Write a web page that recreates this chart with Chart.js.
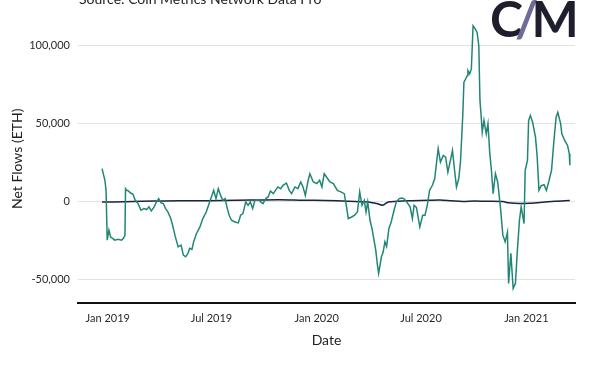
<!DOCTYPE html>
<html>
<head>
<meta charset="utf-8">
<script src="https://cdn.jsdelivr.net/npm/chart.js@4"></script>
<style>
  body { margin: 0; background: #fff; }
  canvas { display: block; }
</style>
</head>
<body>
<canvas id="flowChart" width="600" height="368"></canvas>
<script>
// --- Data (days since 2019-01-01, net flows in ETH) ---
const greenDays = [-10, -5, -3, -1, 2, 5, 9, 12, 18, 24, 27, 30, 31, 33, 35, 40, 44, 48, 53, 58, 63, 68, 72, 76, 81, 85, 89, 93, 97, 101, 105, 110, 114, 118, 123, 128, 132, 136, 140, 143, 147, 150, 155, 161, 166, 172, 177, 181, 185, 189, 193, 197, 201, 205, 208, 212, 216, 222, 228, 232, 236, 241, 245, 249, 253, 257, 263, 267, 271, 276, 280, 284, 289, 293, 297, 302, 306, 312, 317, 321, 327, 332, 337, 341, 345, 350, 353, 359, 365, 370, 374, 378, 382, 388, 394, 401, 407, 413, 417, 420, 426, 431, 436, 440, 444, 448, 451, 454, 458, 462, 465, 468, 471, 473, 478, 481, 484, 487, 491, 495, 500, 504, 509, 513, 517, 522, 528, 532, 535, 539, 545, 550, 554, 558, 562, 567, 571, 574, 577, 581, 586, 590, 594, 599, 602, 606, 609, 613, 616, 620, 622, 625, 628, 629, 632, 635, 638, 642, 645, 648, 650, 652, 654, 657, 661, 664, 667, 670, 673, 677, 681, 686, 690, 694, 698, 700, 704, 708, 712, 715, 719, 722, 727, 729, 733, 735, 738, 742, 747, 750, 753, 757, 762, 766, 770, 775, 779, 783, 786, 791, 793, 798, 803, 806, 807];
const greenValues = [21000, 13500, 7000, -25000, -18600, -23000, -24000, -25000, -24400, -25000, -24000, -22000, 8100, 7000, 7000, 5300, 4500, 600, -1500, -5800, -4700, -5300, -3600, -6200, -3600, -400, 1700, -1000, -1500, -4700, -6800, -11000, -16500, -22900, -29300, -28200, -34600, -35700, -33500, -30300, -31000, -26000, -20700, -16500, -11100, -6900, -1500, 2800, 7000, 1700, 8100, 3800, 600, 1700, -3600, -9000, -12200, -13300, -13900, -9000, -7900, -400, -2600, -400, -4700, 600, 1100, -400, -1500, 1700, 2800, 6600, 4900, 7000, 9200, 8100, 10300, 11700, 7000, 4900, 9200, 8100, 12400, 9200, 3800, 13500, 17700, 12400, 11300, 13500, 9200, 17700, 15600, 12400, 11300, 7000, 6000, 4900, -3600, -11100, -10100, -9000, -6900, 6000, -2600, 600, -6900, -400, -12200, -18600, -25000, -31400, -41000, -46300, -35700, -32500, -26100, -29000, -17500, -13300, -5800, -400, 1700, 2100, 1700, -400, -3600, -11100, -2600, -4000, -16500, -9000, -9000, -2600, 7000, 10300, 14600, 24200, 33800, 25200, 29500, 28400, 18800, 27300, 32700, 18800, 9200, 14600, 25200, 55100, 76500, 78600, 80800, 84000, 81900, 85100, 112800, 110700, 108500, 100000, 65000, 55100, 44400, 52000, 43400, 49800, 31600, 20000, 4900, 17700, 12400, -4700, -21800, -26100, -20000, -52800, -33500, -56000, -52800, -33500, -12200, -3600, -14300, 19900, 26300, 51900, 55100, 50800, 41200, 28400, 7000, 10000, 10600, 7000, 12400, 19900, 38000, 54000, 57200, 49800, 43400, 39100, 35900, 30600, 23100];

const navyDays = [-10, 30, 60, 100, 150, 200, 250, 300, 340, 380, 420, 455, 470, 480, 490, 520, 560, 580, 600, 620, 640, 660, 690, 700, 720, 740, 760, 780, 807];
const navyValues = [-500, -300, 0, 200, 300, 500, 800, 1000, 700, 500, 0, -400, -1500, -2500, -500, 300, 600, 800, 300, -200, 200, 0, -200, -1000, -1500, -1200, -700, 0, 500];

const xTickDates = ["2019-01-01", "2019-07-01", "2020-01-01", "2020-07-01", "2021-01-01"];
const xTickLabels = ["Jan 2019", "Jul 2019", "Jan 2020", "Jul 2020", "Jan 2021"];
const yTickValues = [-50000, 0, 50000, 100000];

const DAY0 = Date.UTC(2019, 0, 1);
const xTickDays = xTickDates.map(s => Math.round((Date.parse(s + "T00:00:00Z") - DAY0) / 86400000));

const FONT = "Lato, 'Open Sans', sans-serif";

// header text + logo drawn on the canvas
const headerPlugin = {
    id: "header",
    afterDraw(chart) {
        const ctx = chart.ctx;
        ctx.save();
        ctx.fillStyle = "#222";
        ctx.font = "14px " + FONT;
        ctx.textBaseline = "alphabetic";
        ctx.textAlign = "left";
        ctx.fillText("Source: Coin Metrics Network Data Pro", 79, 4);

        ctx.font = "bold 50px " + FONT;
        let x = 490;
        const parts = [["C", "#1e1e2c"], ["/", "#6c6c96"], ["M", "#1e1e2c"]];
        parts.forEach(([t, c]) => {
            ctx.fillStyle = c;
            ctx.fillText(t, x, 37);
            x += ctx.measureText(t).width - (t === "C" ? 8 : 7);
        });
        ctx.restore();
    }
};

const ctx = document.getElementById("flowChart").getContext("2d");
new Chart(ctx, {
    type: "line",
    data: {
        datasets: [
            {
                label: "Net Flows",
                data: greenDays.map((d, i) => ({ x: d, y: greenValues[i] })),
                borderColor: "#228676",
                borderWidth: 1.5,
                pointRadius: 0,
                tension: 0,
                fill: false
            },
            {
                label: "Net Flows (other)",
                data: navyDays.map((d, i) => ({ x: d, y: navyValues[i] })),
                borderColor: "#1a2442",
                borderWidth: 1.5,
                pointRadius: 0,
                tension: 0.3,
                fill: false
            }
        ]
    },
    options: {
        responsive: false,
        animation: false,
        layout: { padding: { top: 14, right: 25, left: 0, bottom: 0 } },
        plugins: {
            legend: { display: false },
            tooltip: { enabled: false }
        },
        scales: {
            x: {
                type: "linear",
                min: -52,
                max: 816,
                afterBuildTicks: scale => { scale.ticks = xTickDays.map(v => ({ value: v })); },
                afterFit: scale => { scale.height = 65; },
                grid: { display: false, drawTicks: false },
                border: { display: true, color: "#111", width: 2 },
                ticks: {
                    color: "#2a2a2a",
                    padding: 9,
                    maxRotation: 0,
                    autoSkip: false,
                    font: { family: FONT, size: 11 },
                    callback: (value, index) => xTickLabels[index]
                },
                title: {
                    display: true,
                    text: "Date",
                    color: "#222",
                    font: { family: FONT, size: 14 },
                    padding: { top: 0, bottom: 19 }
                }
            },
            y: {
                min: -65400,
                max: 120000,
                afterBuildTicks: scale => { scale.ticks = yTickValues.map(v => ({ value: v })); },
                afterFit: scale => { scale.width = 78; },
                grid: { color: "#e2e2e2", lineWidth: 1, drawTicks: false },
                border: { display: false },
                ticks: {
                    color: "#2a2a2a",
                    padding: 8,
                    font: { family: FONT, size: 11 },
                    callback: value => value.toLocaleString("en-US")
                },
                title: {
                    display: true,
                    text: "Net Flows (ETH)",
                    color: "#222",
                    font: { family: FONT, size: 14 },
                    padding: { top: 9, bottom: 0 }
                }
            }
        }
    },
    plugins: [headerPlugin]
});
</script>
</body>
</html>
